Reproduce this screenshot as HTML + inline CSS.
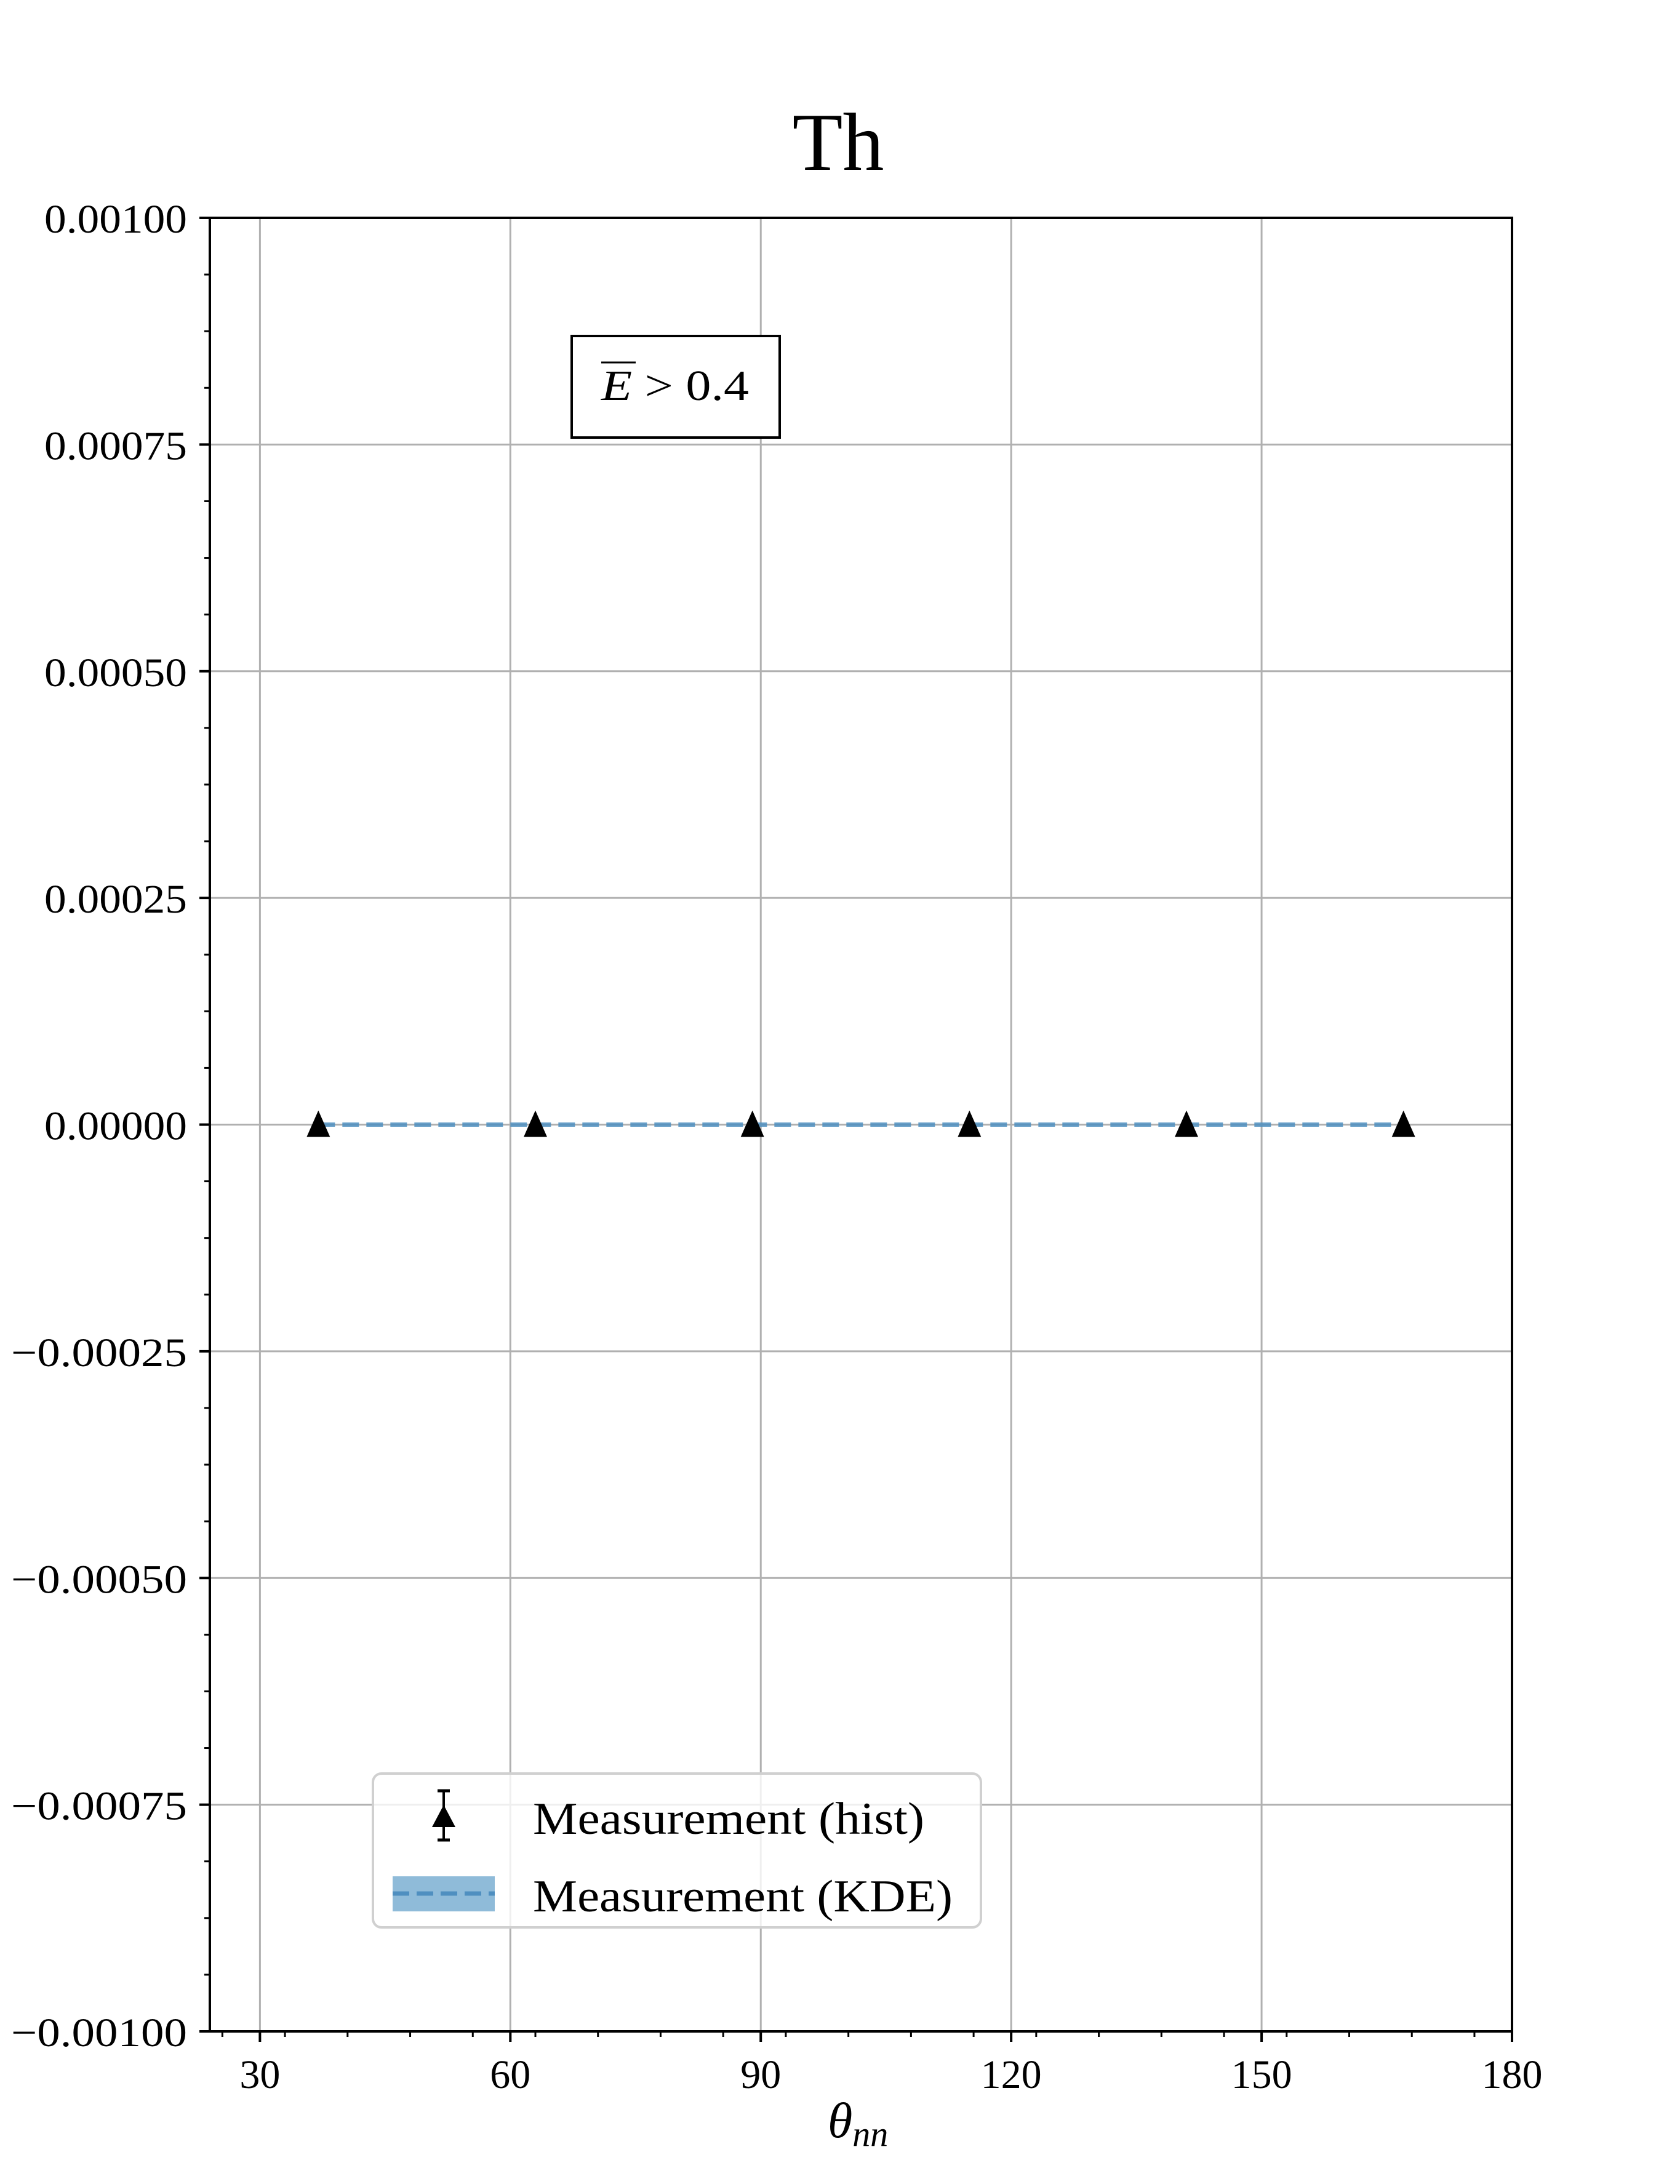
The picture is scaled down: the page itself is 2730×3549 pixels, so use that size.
<!DOCTYPE html>
<html><head><meta charset="utf-8"><style>
html,body{margin:0;padding:0;background:#fff}
svg{display:block}
text{font-family:"Liberation Serif","DejaVu Serif",serif;fill:#000}
</style></head><body>
<svg id="chart" width="2730" height="3549" viewBox="0 0 2730 3549" xmlns="http://www.w3.org/2000/svg">
<rect x="0" y="0" width="2730" height="3549" fill="#fff"/>
<text x="1362" y="276" font-size="134" text-anchor="middle">Th</text>
<g id="grid"></g>
<g id="series"></g>
<g id="axes"></g>
<g>
<rect x="929" y="546" width="338" height="165" fill="#fff" stroke="#000" stroke-width="4"/>
<line x1="977" y1="589" x2="1033" y2="589" stroke="#000" stroke-width="3"/>
<text x="977" y="650" font-size="70" textLength="240" lengthAdjust="spacingAndGlyphs"><tspan font-style="italic">E</tspan> &gt; 0.4</text>
</g>
<g>
<rect x="606" y="2882" width="988" height="250" rx="14" fill="#fff" fill-opacity="0.8" stroke="#d0d0d0" stroke-width="4"/>
<g>
<line x1="721" y1="2910" x2="721" y2="2990" stroke="#000" stroke-width="4"/>
<line x1="711" y1="2910" x2="731" y2="2910" stroke="#000" stroke-width="5"/>
<line x1="711" y1="2990" x2="731" y2="2990" stroke="#000" stroke-width="5"/>
<polygon points="721,2933 702,2969 740,2969" fill="#000"/>
</g>
<text x="866" y="2980" font-size="74" textLength="636" lengthAdjust="spacingAndGlyphs">Measurement (hist)</text>
<g>
<rect x="638" y="3049" width="166" height="57" fill="#1f77b4" fill-opacity="0.5"/>
<line x1="638" y1="3077" x2="804" y2="3077" stroke="#4f8fc0" stroke-width="7" stroke-dasharray="27,12"/>
</g>
<text x="866" y="3106" font-size="74" textLength="682" lengthAdjust="spacingAndGlyphs">Measurement (KDE)</text>
</g>
<text x="1345" y="3473" font-size="82" font-style="italic">θ<tspan font-size="58" dy="14">nn</tspan></text>
</svg>
<script>
const xCats = [37, 63, 89, 115, 141, 167];
const histValues = [0, 0, 0, 0, 0, 0];
const kdeValues = [0, 0, 0, 0, 0, 0];
const xTicks = [30, 60, 90, 120, 150, 180];
const yTicks = [-0.001, -0.00075, -0.0005, -0.00025, 0, 0.00025, 0.0005, 0.00075, 0.001];
const yTickLabels = ["\u22120.00100","\u22120.00075","\u22120.00050","\u22120.00025","0.00000","0.00025","0.00050","0.00075","0.00100"];

const L=341,R=2457,T=354,B=3301;
const xMin=24,xMax=180,yMin=-0.001,yMax=0.001;
function sx(v){return L+(v-xMin)/(xMax-xMin)*(R-L);}
function sy(v){return B-(v-yMin)/(yMax-yMin)*(B-T);}
const NS="http://www.w3.org/2000/svg";
function mk(tag,attrs,parent){const e=document.createElementNS(NS,tag);for(const k in attrs)e.setAttribute(k,attrs[k]);parent.appendChild(e);return e;}
const grid=document.getElementById('grid'),axes=document.getElementById('axes'),series=document.getElementById('series');

xTicks.forEach(v=>{
  const g=mk('line',{x1:sx(v),x2:sx(v),y1:T,y2:B,stroke:'#b0b0b0','stroke-width':3},grid);
  
  
});
yTicks.forEach(v=>{
  const g=mk('line',{x1:L,x2:R,y1:sy(v),y2:sy(v),stroke:'#b0b0b0','stroke-width':3},grid);
  
  
});

const pts=xCats.map((x,i)=>sx(x)+','+sy(kdeValues[i])).join(' ');
const kl=mk('polyline',{points:pts,fill:'none',stroke:'#4f8fc0','stroke-opacity':0.85,'stroke-width':7,'stroke-dasharray':'27,12'},series);



xCats.forEach((x,i)=>{
  const cx=sx(x),cy=sy(histValues[i]);
  const p=mk('polygon',{points:`${cx},${cy-23} ${cx-19},${cy+20} ${cx+19},${cy+20}`,fill:'#000'},series);
  
  
});

const sp=mk('rect',{x:L,y:T,width:R-L,height:B-T,fill:'none',stroke:'#000','stroke-width':4},axes);



xTicks.forEach(v=>{
  const t=mk('line',{x1:sx(v),x2:sx(v),y1:B,y2:B+17,stroke:'#000','stroke-width':4},axes);
  
  
  const lb=mk('text',{x:sx(v),y:3393,'font-size':66,'text-anchor':'middle'},axes);
  lb.textContent=String(v);
  
  
});
for(let v=xMin+1.5;v<xMax;v+=7.5){
  if(Math.abs(((v-30)/30)-Math.round((v-30)/30))<1e-6)continue;
  const t=mk('line',{x1:sx(v),x2:sx(v),y1:B,y2:B+9,stroke:'#000','stroke-width':3},axes);
  
  
}
yTicks.forEach((v,i)=>{
  const t=mk('line',{x1:L-17,x2:L,y1:sy(v),y2:sy(v),stroke:'#000','stroke-width':4},axes);
  
  
  const neg=yTickLabels[i].charAt(0)==='\u2212';
  const w=neg?286:232;
  const lb=mk('text',{x:304-w,y:sy(v)+24,'font-size':66,textLength:w,lengthAdjust:'spacingAndGlyphs'},axes);
  lb.textContent=yTickLabels[i];
  
  
});
for(let k=0;k<32;k++){
  if(k%4===0)continue;
  const v=yMin+k*0.0000625;
  const t=mk('line',{x1:L-9,x2:L,y1:sy(v),y2:sy(v),stroke:'#000','stroke-width':3},axes);
  
  
}
</script>
</body></html>
